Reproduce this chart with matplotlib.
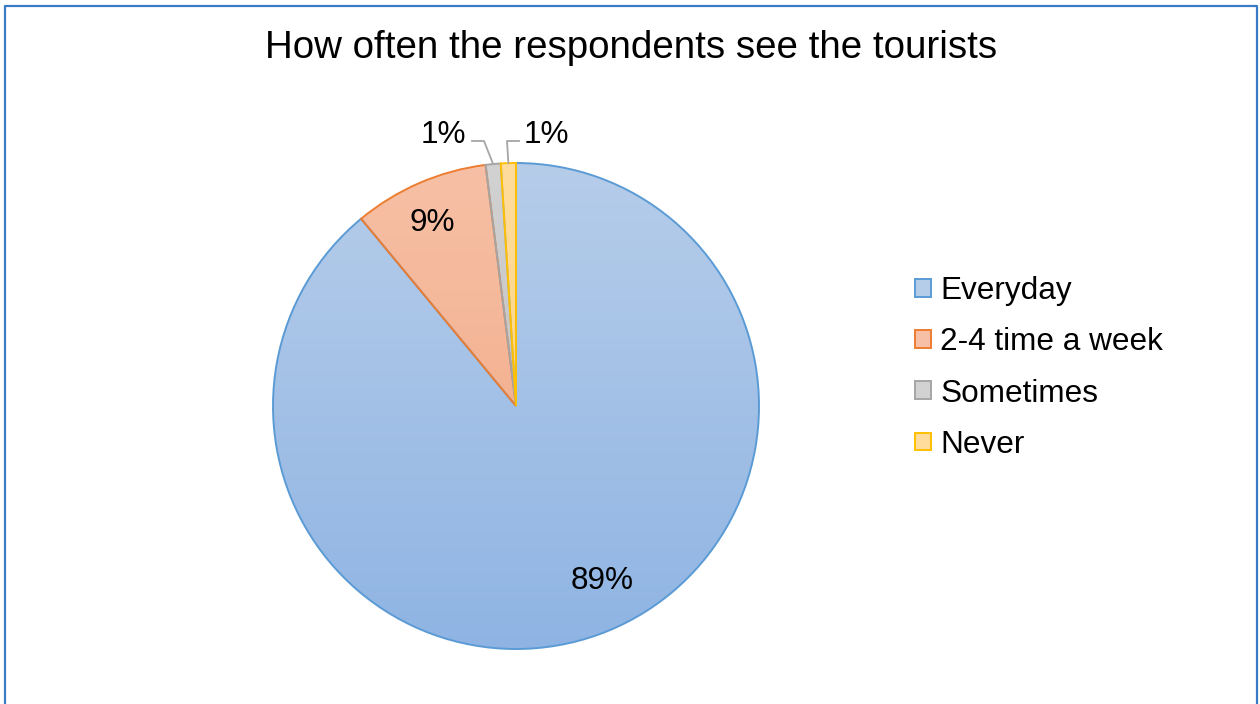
import numpy as np
import matplotlib
matplotlib.use('Agg')
import matplotlib.pyplot as plt
from matplotlib.patches import Patch
from matplotlib.colors import to_rgb

plt.rcParams['font.family'] = ['Liberation Sans', 'DejaVu Sans']

categories = ['Everyday', '2-4 time a week', 'Sometimes', 'Never']
shares = [89, 9, 1, 1]
label_text = ['89%', '9%', '1%', '1%']

# gradient fills (top, bottom) and outline colours
fill_top = ['#b6cdea', '#f7c0a6', '#d2d2d2', '#ffdc9c']
fill_bottom = ['#8fb4e3', '#f0a57e', '#b8b8b8', '#ffd27a']
edge_colors = ['#5b9bd5', '#ed7d31', '#a5a5a5', '#ffc000']

W, H = 1260, 704
cx, cy, R = 516, H - 406, 243

fig = plt.figure(figsize=(W / 100, H / 100), dpi=100)
ax = fig.add_axes([0, 0, 1, 1])

wedges, _ = ax.pie(shares, startangle=90, counterclock=False,
                   center=(cx, cy), radius=R,
                   wedgeprops=dict(linewidth=1.4, facecolor='none'))

for w, top, bot, ec in zip(wedges, fill_top, fill_bottom, edge_colors):
    w.set_edgecolor(ec)
    w.set_facecolor('none')
    w.set_zorder(3)
    t = np.linspace(0, 1, 256)[:, None, None]
    grad = (1 - t) * np.array(to_rgb(top)) + t * np.array(to_rgb(bot))
    img = ax.imshow(grad, extent=(cx - R, cx + R, cy - R, cy + R),
                    origin='upper', aspect='auto', zorder=2)
    img.set_clip_path(w)

# label positions in pixel space (y measured from top)
label_pos = [(602, 581), (432, 223), (443, 135), (546, 135)]
for txt, (lx, ly) in zip(label_text, label_pos):
    ax.text(lx, H - ly, txt, fontsize=22.7, ha='center', va='center', zorder=5)

# leader lines for the two small slices
for i, elbow_x, start_x in [(2, 484, 472), (3, 507, 519)]:
    w = wedges[i]
    mid = np.deg2rad((w.theta1 + w.theta2) / 2)
    ex, ey = cx + R * np.cos(mid), cy + R * np.sin(mid)
    yl = H - 141
    ax.plot([start_x, elbow_x, ex], [yl, yl, ey], color='#a6a6a6', lw=1.3, zorder=4)

handles = [Patch(facecolor=fill_top[i], edgecolor=edge_colors[i], linewidth=1.4)
           for i in range(len(categories))]
ax.legend(handles, categories, loc='center left', bbox_to_anchor=(915, H - 368),
          bbox_transform=ax.transData, frameon=False, fontsize=22.7,
          handlelength=0.5, handleheight=0.5, handletextpad=0.3,
          labelspacing=0.67, borderpad=0, borderaxespad=0)

ax.text(631, H - 48, 'How often the respondents see the tourists',
        fontsize=27.7, ha='center', va='center')

# chart frame (bottom edge falls outside the image)
ax.plot([4.5, 4.5, 1257, 1257], [-5, H - 6, H - 6, -5], color='#3a7cc4',
        lw=1.6, zorder=6, clip_on=False)

ax.set_xlim(0, W)
ax.set_ylim(0, H)
ax.set_axis_off()

fig.savefig('out.png', dpi=100)
